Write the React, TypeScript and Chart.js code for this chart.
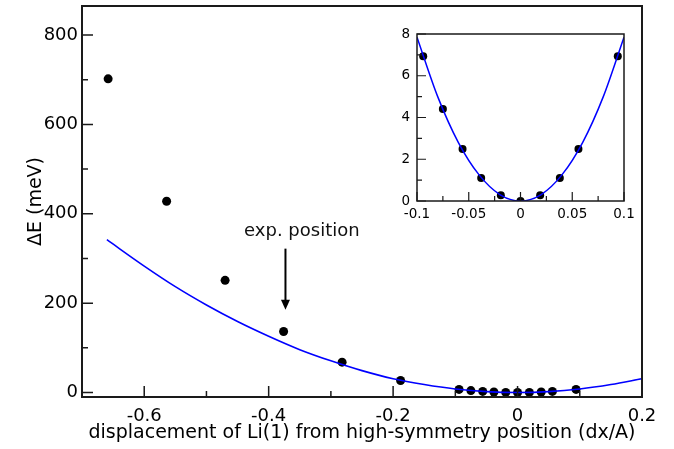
import React, { useEffect, useRef } from "react";
import { Chart, registerables } from "chart.js";

Chart.register(...registerables);

const FONT = "'DejaVu Sans', 'Liberation Sans', sans-serif";
const INK = "#1a1a1a";
const FIT_COLOR = "#0000ff";

// Computed energies (meV) for displacements of Li(1) (dx/A)
const DISP = [-0.658, -0.564, -0.47, -0.376, -0.282, -0.188, -0.094, -0.075, -0.056, -0.038, -0.019, 0, 0.019, 0.038, 0.056, 0.094];
const ENERGY = [702, 428, 251, 136.5, 68, 27, 6.93, 4.41, 2.49, 1.1, 0.27, 0, 0.27, 1.1, 2.49, 6.93];

// Harmonic fit curve
const FIT_X = [-0.66, -0.6, -0.55, -0.5, -0.45, -0.4, -0.35, -0.3, -0.25, -0.2, -0.15, -0.1, -0.05, 0, 0.05, 0.1, 0.15, 0.2];
const FIT_E = [342, 283, 237, 196, 159, 126, 96, 71, 49, 31, 18, 8, 2, 0, 2, 8, 18, 31];

// Inset: small displacements around the high-symmetry position
const INSET_DISP = [-0.094, -0.075, -0.056, -0.038, -0.019, 0, 0.019, 0.038, 0.056, 0.094];
const INSET_ENERGY = [6.93, 4.41, 2.49, 1.1, 0.27, 0, 0.27, 1.1, 2.49, 6.93];
const INSET_FIT_X = [-0.1, -0.08, -0.06, -0.04, -0.02, 0, 0.02, 0.04, 0.06, 0.08, 0.1];
const INSET_FIT_E = [7.85, 5.0, 2.8, 1.25, 0.31, 0, 0.31, 1.25, 2.8, 5.0, 7.85];

// Axis ticks
const X_TICKS = [-0.6, -0.4, -0.2, 0, 0.2];
const X_MINOR = [-0.5, -0.3, -0.1, 0.1];
const Y_TICKS = [0, 200, 400, 600, 800];
const Y_MINOR = [100, 300, 500, 700];
const INSET_X_TICKS = [-0.1, -0.05, 0, 0.05, 0.1];
const INSET_X_MINOR = [-0.075, -0.025, 0.025, 0.075];
const INSET_Y_TICKS = [0, 2, 4, 6, 8];
const INSET_Y_MINOR = [1, 3, 5, 7];

// Experimental position marker (data units)
const EXP_LABEL = "exp. position";
const EXP_X = -0.373;
const EXP_ARROW_TOP = 322;
const EXP_ARROW_TIP = 185;
const EXP_LABEL_X = -0.4395;
const EXP_LABEL_Y = 350;

const fmt = (v: number) => String(Number(Number(v).toFixed(3)));

const pts = (xs: number[], ys: number[]) => xs.map((x, i) => ({ x, y: ys[i] }));

const noPad = (s: any) => {
  s.paddingTop = 0;
  s.paddingBottom = 0;
  s.paddingLeft = 0;
  s.paddingRight = 0;
};

type TickCfg = {
  xMajor: number[];
  xMinor: number[];
  yMajor: number[];
  yMinor: number[];
  major: number;
  minor: number;
  tickWidth: number;
  frameWidth: number;
};

// Inward tick marks and a closed frame around the plot area
const framePlugin = (cfg: TickCfg) => ({
  id: "frameTicks",
  afterDatasetsDraw(chart: any) {
    const { ctx, chartArea: a, scales } = chart;
    const sx = scales.x;
    const sy = scales.y;
    ctx.save();
    ctx.strokeStyle = INK;
    ctx.lineWidth = cfg.tickWidth;
    ctx.beginPath();
    const xt = (vals: number[], len: number) => {
      for (const v of vals) {
        const p = sx.getPixelForValue(v);
        ctx.moveTo(p, a.bottom);
        ctx.lineTo(p, a.bottom - len);
      }
    };
    const yt = (vals: number[], len: number) => {
      for (const v of vals) {
        const p = sy.getPixelForValue(v);
        ctx.moveTo(a.left, p);
        ctx.lineTo(a.left + len, p);
      }
    };
    xt(cfg.xMajor, cfg.major);
    xt(cfg.xMinor, cfg.minor);
    yt(cfg.yMajor, cfg.major);
    yt(cfg.yMinor, cfg.minor);
    ctx.stroke();
    ctx.lineWidth = cfg.frameWidth;
    ctx.strokeRect(a.left, a.top, a.right - a.left, a.bottom - a.top);
    ctx.restore();
  },
});

// "exp. position" label with a downward arrow
const arrowPlugin = {
  id: "expArrow",
  afterDatasetsDraw(chart: any) {
    const { ctx, scales } = chart;
    const x = scales.x.getPixelForValue(EXP_X);
    const y0 = scales.y.getPixelForValue(EXP_ARROW_TOP);
    const y1 = scales.y.getPixelForValue(EXP_ARROW_TIP);
    ctx.save();
    ctx.strokeStyle = "#000";
    ctx.fillStyle = "#000";
    ctx.lineWidth = 2;
    ctx.beginPath();
    ctx.moveTo(x, y0);
    ctx.lineTo(x, y1 - 8);
    ctx.stroke();
    ctx.beginPath();
    ctx.moveTo(x - 4.5, y1 - 10);
    ctx.lineTo(x + 4.5, y1 - 10);
    ctx.lineTo(x, y1);
    ctx.closePath();
    ctx.fill();
    ctx.font = `18px ${FONT}`;
    ctx.fillStyle = "#111";
    ctx.textAlign = "left";
    ctx.textBaseline = "alphabetic";
    ctx.fillText(EXP_LABEL, scales.x.getPixelForValue(EXP_LABEL_X), scales.y.getPixelForValue(EXP_LABEL_Y));
    ctx.restore();
  },
};

export default function App() {
  const mainRef = useRef<HTMLCanvasElement | null>(null);
  const insetRef = useRef<HTMLCanvasElement | null>(null);

  useEffect(() => {
    const main = new Chart(mainRef.current as HTMLCanvasElement, {
      type: "scatter",
      data: {
        datasets: [
          {
            label: "fit",
            data: pts(FIT_X, FIT_E),
            showLine: true,
            borderColor: FIT_COLOR,
            borderWidth: 1.6,
            pointRadius: 0,
            cubicInterpolationMode: "monotone",
            order: 0,
          } as any,
          {
            label: "calc",
            data: pts(DISP, ENERGY),
            backgroundColor: "#000",
            borderColor: "#000",
            borderWidth: 0,
            pointRadius: 4.5,
            order: 1,
          },
        ],
      },
      options: {
        responsive: false,
        animation: false,
        devicePixelRatio: 1,
        layout: { padding: { top: 6, right: 32, left: 0, bottom: 0 } },
        plugins: { legend: { display: false }, tooltip: { enabled: false } },
        scales: {
          x: {
            type: "linear",
            min: -0.7,
            max: 0.2,
            afterBuildTicks: (s: any) => {
              s.ticks = X_TICKS.map((value) => ({ value }));
            },
            afterFit: (s: any) => {
              s.height = 52;
              noPad(s);
            },
            grid: { display: false, drawTicks: false },
            border: { display: false },
            ticks: {
              color: "#000",
              padding: 9,
              maxRotation: 0,
              font: { family: FONT, size: 18 },
              callback: (v: any) => fmt(v),
            },
            title: {
              display: true,
              text: "displacement of Li(1) from high-symmetry position (dx/A)",
              color: "#000",
              font: { family: FONT, size: 19 },
              padding: { top: 0, bottom: 5 },
            },
          },
          y: {
            type: "linear",
            min: -10,
            max: 865,
            afterBuildTicks: (s: any) => {
              s.ticks = Y_TICKS.map((value) => ({ value }));
            },
            afterFit: (s: any) => {
              s.width = 82;
              noPad(s);
            },
            grid: { display: false, drawTicks: false },
            border: { display: false },
            ticks: {
              color: "#000",
              padding: 4,
              font: { family: FONT, size: 18 },
              callback: (v: any) => fmt(v),
            },
            title: {
              display: true,
              text: "ΔE (meV)",
              color: "#000",
              font: { family: FONT, size: 19 },
              padding: { top: 25, bottom: 0 },
            },
          },
        },
      },
      plugins: [
        framePlugin({
          xMajor: X_TICKS,
          xMinor: X_MINOR,
          yMajor: Y_TICKS,
          yMinor: Y_MINOR,
          major: 11,
          minor: 6,
          tickWidth: 1.5,
          frameWidth: 2,
        }),
        arrowPlugin,
      ],
    });

    const inset = new Chart(insetRef.current as HTMLCanvasElement, {
      type: "scatter",
      data: {
        datasets: [
          {
            label: "fit",
            data: pts(INSET_FIT_X, INSET_FIT_E),
            showLine: true,
            borderColor: FIT_COLOR,
            borderWidth: 1.5,
            pointRadius: 0,
            cubicInterpolationMode: "monotone",
            order: 0,
          } as any,
          {
            label: "calc",
            data: pts(INSET_DISP, INSET_ENERGY),
            backgroundColor: "#000",
            borderColor: "#000",
            borderWidth: 0,
            pointRadius: 4,
            order: 1,
          },
        ],
      },
      options: {
        responsive: false,
        animation: false,
        devicePixelRatio: 1,
        layout: { padding: { top: 14, right: 16, left: 0, bottom: 0 } },
        plugins: { legend: { display: false }, tooltip: { enabled: false } },
        scales: {
          x: {
            type: "linear",
            min: -0.1,
            max: 0.1,
            afterBuildTicks: (s: any) => {
              s.ticks = INSET_X_TICKS.map((value) => ({ value }));
            },
            afterFit: (s: any) => {
              s.height = 29;
              noPad(s);
            },
            grid: { display: false, drawTicks: false },
            border: { display: false },
            ticks: {
              color: "#000",
              padding: 5,
              maxRotation: 0,
              font: { family: FONT, size: 13.5 },
              callback: (v: any) => fmt(v),
            },
          },
          y: {
            type: "linear",
            min: 0,
            max: 8,
            afterBuildTicks: (s: any) => {
              s.ticks = INSET_Y_TICKS.map((value) => ({ value }));
            },
            afterFit: (s: any) => {
              s.width = 37;
              noPad(s);
            },
            grid: { display: false, drawTicks: false },
            border: { display: false },
            ticks: {
              color: "#000",
              padding: 7,
              font: { family: FONT, size: 13.5 },
              callback: (v: any) => fmt(v),
            },
          },
        },
      },
      plugins: [
        framePlugin({
          xMajor: INSET_X_TICKS,
          xMinor: INSET_X_MINOR,
          yMajor: INSET_Y_TICKS,
          yMinor: INSET_Y_MINOR,
          major: 9,
          minor: 5,
          tickWidth: 1.2,
          frameWidth: 1.5,
        }),
      ],
    });

    return () => {
      main.destroy();
      inset.destroy();
    };
  }, []);

  return (
    <div
      style={{
        position: "fixed",
        left: 0,
        top: 0,
        width: 674,
        height: 449,
        background: "#fff",
      }}
    >
      <canvas
        ref={mainRef}
        width={674}
        height={449}
        style={{ position: "absolute", left: 0, top: 0, width: 674, height: 449 }}
      />
      <canvas
        ref={insetRef}
        width={260}
        height={210}
        style={{ position: "absolute", left: 380, top: 20, width: 260, height: 210 }}
      />
    </div>
  );
}
